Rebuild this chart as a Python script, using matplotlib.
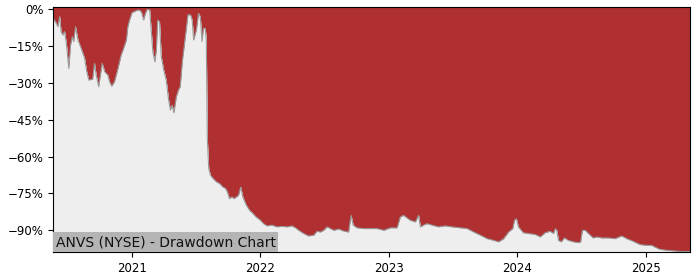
import matplotlib
matplotlib.use("Agg")
import matplotlib.pyplot as plt
import matplotlib.dates as mdates
from matplotlib.ticker import FuncFormatter, MultipleLocator
import pandas as pd

# drawdown points (date, % below running peak)
dates = [
    "2020-05-21", "2020-05-28", "2020-06-04", "2020-06-09", "2020-06-13", "2020-06-18",
    "2020-06-23", "2020-06-28", "2020-07-05", "2020-07-10", "2020-07-15", "2020-07-19",
    "2020-07-24", "2020-07-31", "2020-08-09", "2020-08-19", "2020-08-25", "2020-08-31",
    "2020-09-11", "2020-09-16", "2020-09-21", "2020-09-28", "2020-10-03", "2020-10-08",
    "2020-10-15", "2020-10-24", "2020-10-29", "2020-11-04", "2020-11-12", "2020-11-17",
    "2020-11-22", "2020-12-01", "2020-12-08", "2020-12-16", "2020-12-20", "2020-12-25",
    "2021-01-01", "2021-01-13", "2021-01-20", "2021-01-27", "2021-02-03", "2021-02-08",
    "2021-02-13", "2021-02-20", "2021-02-25", "2021-03-01", "2021-03-07", "2021-03-11",
    "2021-03-15", "2021-03-20", "2021-03-25", "2021-04-01", "2021-04-08", "2021-04-15",
    "2021-04-20", "2021-04-25", "2021-04-30", "2021-05-07", "2021-05-13", "2021-05-18",
    "2021-05-24", "2021-05-28", "2021-06-04", "2021-06-09", "2021-06-16", "2021-06-21",
    "2021-06-25", "2021-07-03", "2021-07-09", "2021-07-14", "2021-07-19", "2021-07-23",
    "2021-07-28", "2021-07-31", "2021-08-03", "2021-08-07", "2021-08-12", "2021-08-19",
    "2021-08-29", "2021-09-07", "2021-09-16", "2021-09-24", "2021-09-29", "2021-10-05",
    "2021-10-12", "2021-10-18", "2021-10-25", "2021-10-31", "2021-11-06", "2021-11-12",
    "2021-11-22", "2021-12-01", "2021-12-11", "2021-12-20",
    "2022-01-01", "2022-01-10", "2022-01-20", "2022-02-03", "2022-02-17", "2022-03-04",
    "2022-03-18", "2022-04-01", "2022-04-11", "2022-04-20", "2022-05-04", "2022-05-18",
    "2022-06-02", "2022-06-11", "2022-06-21", "2022-06-30", "2022-07-10", "2022-07-19",
    "2022-07-29", "2022-08-12", "2022-08-26", "2022-09-09", "2022-09-16", "2022-09-22",
    "2022-10-03", "2022-10-22", "2022-11-10", "2022-11-29", "2022-12-18",
    "2023-01-06", "2023-01-25", "2023-02-03", "2023-02-12", "2023-03-03", "2023-03-18",
    "2023-03-27", "2023-04-01", "2023-04-10", "2023-04-20", "2023-05-04", "2023-05-23",
    "2023-06-11", "2023-06-30", "2023-07-19", "2023-08-12", "2023-08-31", "2023-09-19",
    "2023-10-08", "2023-10-27", "2023-11-10", "2023-11-24", "2023-12-08", "2023-12-20",
    "2023-12-25", "2023-12-30",
    "2024-01-05", "2024-01-19", "2024-02-03", "2024-02-22", "2024-03-07", "2024-03-21",
    "2024-04-04", "2024-04-14", "2024-04-19", "2024-04-23", "2024-04-28", "2024-05-06",
    "2024-05-15", "2024-05-26", "2024-06-10", "2024-06-24", "2024-06-30", "2024-07-05",
    "2024-07-13", "2024-07-22", "2024-08-05", "2024-08-15", "2024-08-29", "2024-09-17",
    "2024-10-06", "2024-10-25", "2024-11-08", "2024-11-27", "2024-12-16",
    "2025-01-03", "2025-01-18", "2025-01-27", "2025-02-10", "2025-03-01", "2025-03-25",
    "2025-04-13", "2025-05-07",
]
drawdown = [
    -3.8, -5.2, -7.2, -3.1, -9.2, -10.6,
    -9.2, -14.0, -24.2, -14.7, -11.3, -13.3,
    -7.2, -12.6, -16.0, -20.1, -25.5, -28.9,
    -28.6, -22.1, -26.9, -31.6, -26.9, -22.1,
    -25.5, -26.9, -29.6, -31.4, -29.6, -26.9,
    -24.2, -18.7, -16.0, -12.6, -7.2, -4.5,
    -1.5, -0.7, -0.4, -1.1, -4.5, -1.8,
    -0.2, -0.4, -9.9, -17.4, -21.5, -16.7,
    -4.5, -5.2, -19.4, -24.8, -28.9, -37.1,
    -41.1, -39.1, -42.2, -35.7, -33.0, -31.6,
    -21.5, -16.7, -8.6, -2.4, -2.4, -4.5,
    -12.6, -8.6, -1.8, -3.1, -13.3, -7.9,
    -7.9, -12.0, -52.6, -64.9, -67.6, -68.9,
    -70.3, -71.0, -72.4, -73.0, -74.4, -77.1,
    -76.4, -77.1, -76.4, -75.7, -72.4, -76.4,
    -79.8, -81.8, -83.2, -84.6,
    -85.9, -87.3, -88.2, -87.9, -88.6, -88.4,
    -88.6, -88.2, -89.0, -90.0, -91.3, -92.3,
    -92.0, -90.4, -90.7, -90.0, -88.6, -89.3,
    -90.0, -89.5, -90.3, -90.7, -83.9, -87.9,
    -89.0, -89.3, -89.3, -89.3, -90.0,
    -89.0, -89.0, -84.6, -83.9, -85.9, -86.6,
    -83.9, -88.6, -87.9, -87.3, -87.9, -88.6,
    -88.2, -88.6, -88.9, -89.3, -90.7, -92.0,
    -93.4, -94.1, -94.7, -93.4, -90.7, -89.3,
    -85.9, -85.2,
    -88.6, -91.0, -91.3, -91.7, -92.7, -91.0,
    -90.4, -91.3, -89.3, -90.0, -94.1, -94.7,
    -93.1, -94.1, -94.7, -95.0, -94.7, -90.0,
    -90.0, -91.3, -93.1, -92.7, -93.1, -93.1,
    -93.4, -92.3, -93.4, -94.5, -95.8,
    -96.1, -96.1, -96.8, -97.7, -98.1, -98.4,
    -98.6, -98.6,
]
title = "ANVS (NYSE) - Drawdown Chart"

dates = pd.to_datetime(dates)
y_top, y_bottom = 0.8, -98.8

fig = plt.figure(figsize=(7, 2.8), dpi=100)
ax = fig.add_axes([0.0757, 0.1, 0.91, 0.875])

ax.fill_between(dates, drawdown, y_top, color="#b03031", linewidth=0)
ax.fill_between(dates, drawdown, y_bottom, color="#eeeeee", linewidth=0)
ax.plot(dates, drawdown, color="#9a9a9a", linewidth=0.8)

ax.set_xlim(dates[0], dates[-1])
ax.set_ylim(y_bottom, y_top)

ax.yaxis.set_major_locator(MultipleLocator(15))
ax.yaxis.set_major_formatter(FuncFormatter(lambda v, p: f"{v:.0f}%".replace("-", "\u2212")))
ax.xaxis.set_major_locator(mdates.YearLocator())
ax.xaxis.set_major_formatter(mdates.DateFormatter("%Y"))
ax.tick_params(labelsize=8.5)

ax.text(0.004, 0.012, title, transform=ax.transAxes, fontsize=10, color="#111111",
        ha="left", va="bottom",
        bbox=dict(facecolor="#b4b4b4", edgecolor="none", pad=2))

fig.savefig("out.png", dpi=100)
